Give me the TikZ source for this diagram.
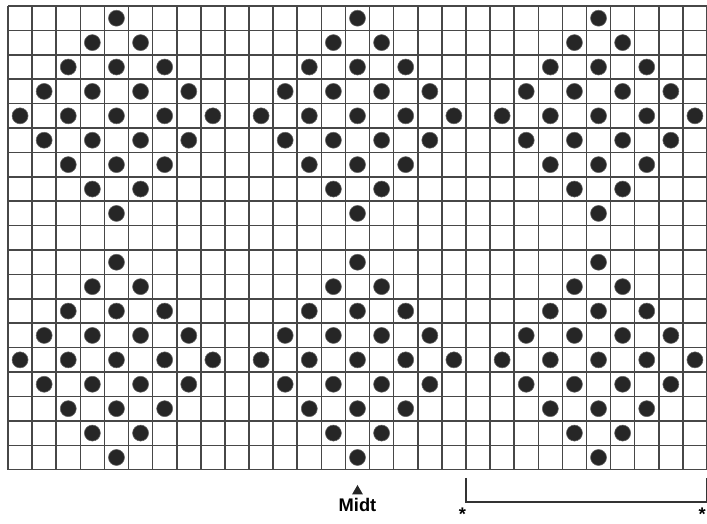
\documentclass[tikz,border=0pt]{standalone}
\usepackage{fontspec}
\setsansfont{Liberation Sans}
\usetikzlibrary{shapes.geometric, positioning}

\begin{document}
\begin{tikzpicture}[
    x=0.6025cm,
    y=-0.61cm,
    gridline/.style={
        line width=1.1pt,
        draw=black!72
    },
    stitch/.style={
        fill=black!85,
        draw=black!60
    },
    bracket/.style={
        line width=1.0pt,
        draw=black!80
    },
    midlabel/.style={
        font=\sffamily\bfseries\fontsize{13}{15}\selectfont,
        inner sep=0pt
    },
    midmark/.style={
        regular polygon,
        regular polygon sides=3,
        fill=black!85,
        minimum size=0.31cm,
        inner sep=0pt
    },
    starmark/.style={
        font=\sffamily\bfseries\fontsize{13}{15}\selectfont,
        inner sep=0pt
    }
]
% PAGE SIZE
\useasboundingbox (-0.332,-0.246) rectangle (29,21.19);
% GRID
\foreach \c in {0,...,29}
    \draw [gridline] (\c,0) -- (\c,19);
\foreach \r in {0,...,19}
    \draw [gridline] (0,\r) -- (29,\r);
% DIAMONDS OF DOTS
\foreach \cx in {4.5,14.5,24.5}
    \foreach \cy in {4.5,14.5}
        \foreach \dx in {-4,...,4}
            \foreach \dy in {-4,...,4} {
                \pgfmathtruncatemacro{\keep}{(abs(\dx)+abs(\dy)<=4) && (mod(abs(\dx+\dy),2)==0)}
                \ifnum\keep=1
                    \filldraw [stitch] (\cx+\dx,\cy+\dy) circle (0.2cm);
                \fi
            }
% MIDDLE MARK
\node (midt) [midlabel] at (14.5,20.45) {Midt};
\node (tip) [midmark, above=2.5pt of midt] {};
% REPEAT BRACKET
\coordinate (bl) at (19,19.34);
\coordinate (br) at (29,19.34);
\draw [bracket] (bl) -- (bl |- 0,20.33) -- (br |- 0,20.33) -- (br);
\node (startstar) [starmark] at (18.85,20.82) {*};
\node (endstar) [starmark] at (28.8,20.82) {*};
\end{tikzpicture}
\end{document}
